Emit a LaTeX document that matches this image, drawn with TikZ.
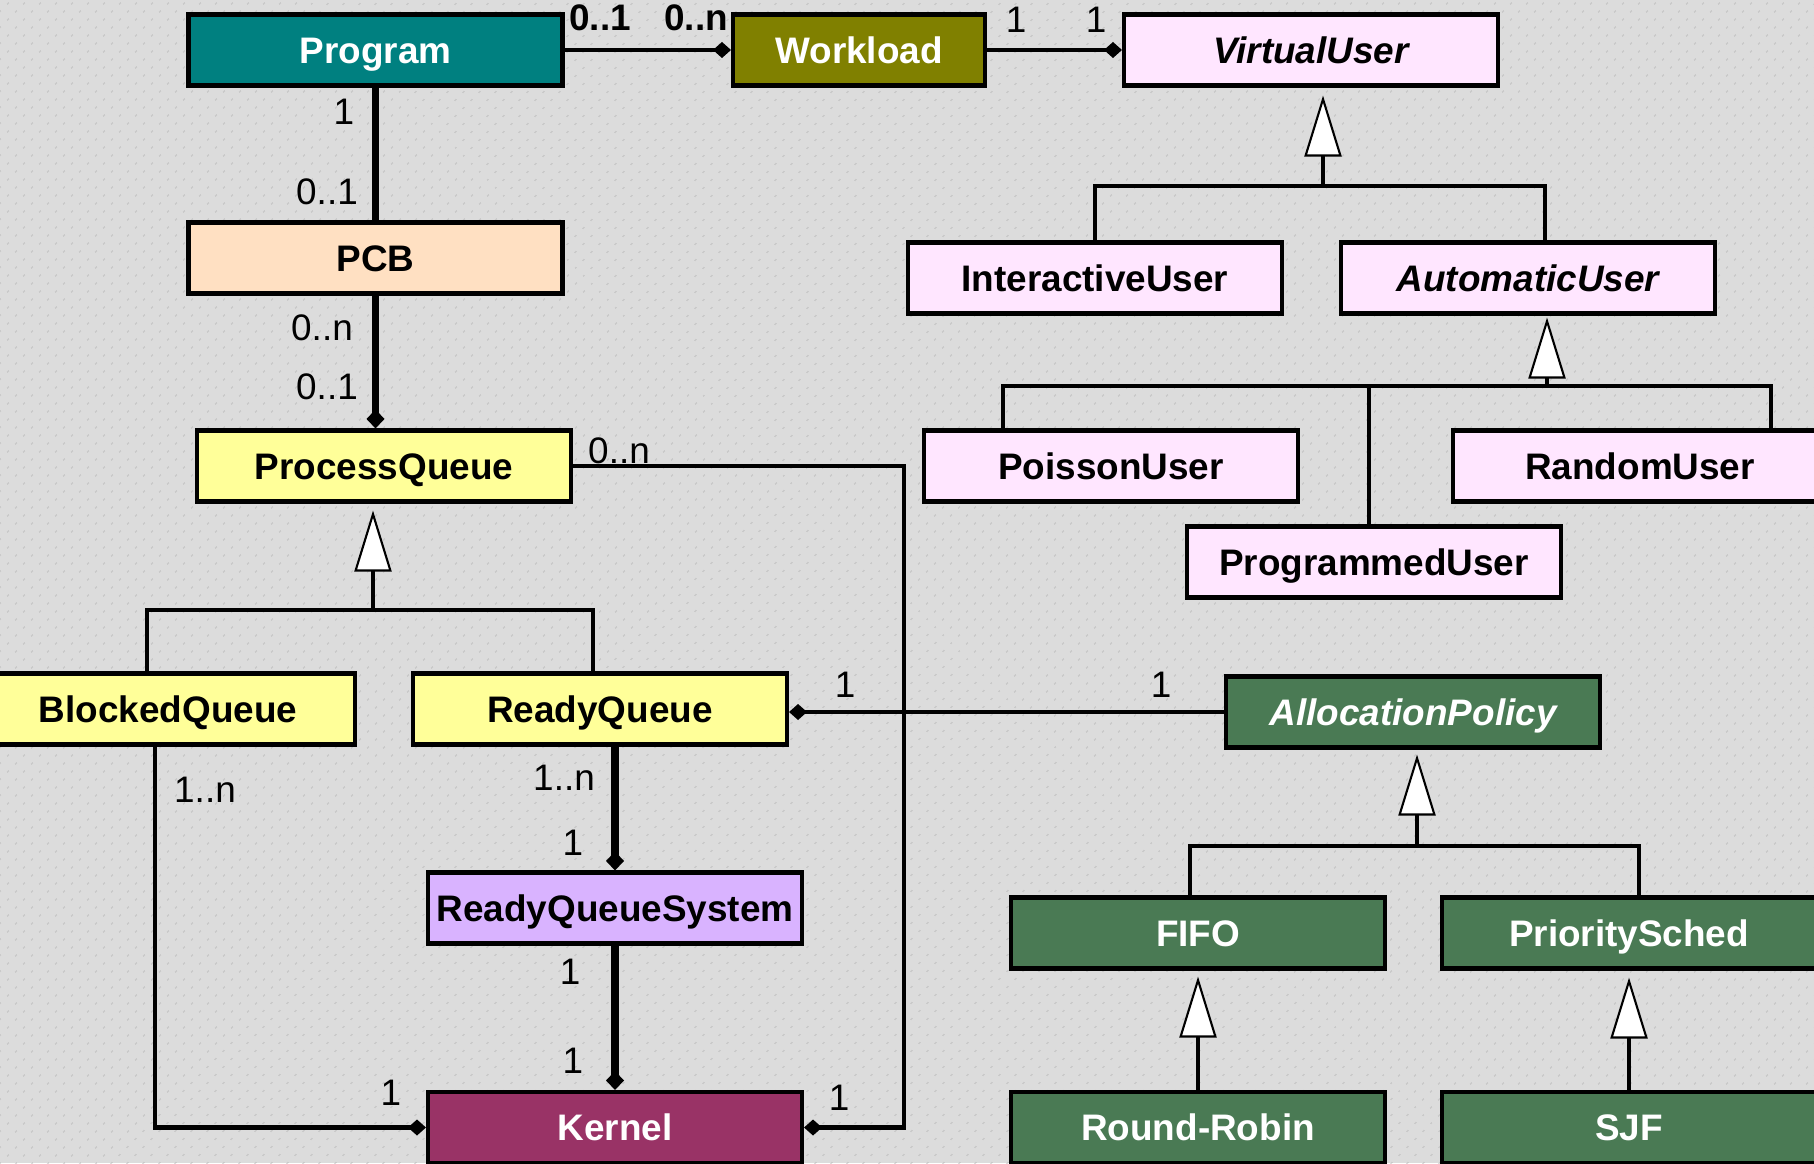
\documentclass[tikz,border=0pt]{standalone}
\usepackage{fontspec}
\setmainfont{Liberation Sans}
\usepackage{tikz}
\usetikzlibrary{arrows.meta,patterns.meta}
\definecolor{canvas}{HTML}{DCDCDC}
\definecolor{dotgray}{HTML}{B8B8B8}
\definecolor{progteal}{HTML}{008080}
\definecolor{workolive}{HTML}{808000}
\definecolor{userpink}{HTML}{FFE6FF}
\definecolor{pcbpeach}{HTML}{FFE0C2}
\definecolor{queueyellow}{HTML}{FFFF99}
\definecolor{syslilac}{HTML}{D9B3FF}
\definecolor{kernelplum}{HTML}{993366}
\definecolor{policygreen}{HTML}{4A7A54}
\tikzset{umlbox/.style={draw=black,line width=1.15pt,minimum width=3.74cm,minimum height=0.71cm,inner sep=0pt,text height=7.5pt,text depth=0pt,font=\fontsize{10.5}{12}\selectfont\bfseries},absbox/.style={umlbox,font=\fontsize{10.5}{12}\selectfont\bfseries\itshape},policy/.style={fill=policygreen,text=white},mult/.style={inner sep=0pt,font=\fontsize{10.5}{12}\selectfont},multb/.style={mult,font=\fontsize{10.5}{12}\selectfont\bfseries},link/.style={line width=1.4pt},strong/.style={line width=2pt},assoc/.style={link,-{Diamond[length=1.8mm,width=1.6mm]}},strongassoc/.style={strong,-{Diamond[length=1.9mm,width=1.8mm]}},gen/.style={link,-{Triangle[length=6.1mm,width=3.7mm,fill=white,line width=0.6pt]}}}
\begin{document}
\begin{tikzpicture}
\fill[canvas] (0,0) rectangle (18.14,11.63);
\fill[pattern={Dots[distance=1.131mm,radius=0.1mm,angle=45]},pattern color=dotgray] (0,0) rectangle (18.14,11.63);
\useasboundingbox (0,0) rectangle (18.14,11.63);
\node[umlbox,fill=progteal,text=white] (prog) at (3.755,11.13) {Program};
\node[umlbox,fill=workolive,text=white,minimum width=2.52cm] (work) at (8.59,11.13) {Workload};
\node[absbox,fill=userpink] (vuser) at (13.11,11.13) {VirtualUser};
\node[umlbox,fill=userpink] (iuser) at (10.95,8.85) {InteractiveUser};
\node[absbox,fill=userpink] (auser) at (15.28,8.85) {AutomaticUser};
\node[umlbox,fill=userpink] (puser) at (11.11,6.97) {PoissonUser};
\node[umlbox,fill=userpink] (ruser) at (16.40,6.97) {RandomUser};
\node[umlbox,fill=userpink] (pguser) at (13.74,6.01) {ProgrammedUser};
\node[umlbox,fill=pcbpeach] (pcb) at (3.755,9.05) {PCB};
\node[umlbox,fill=queueyellow] (pq) at (3.84,6.97) {ProcessQueue};
\node[umlbox,fill=queueyellow] (bq) at (1.68,4.54) {BlockedQueue};
\node[umlbox,fill=queueyellow] (rq) at (6.00,4.54) {ReadyQueue};
\node[umlbox,fill=syslilac] (rqs) at (6.15,2.55) {ReadyQueueSystem};
\node[umlbox,fill=kernelplum,text=white] (kernel) at (6.15,0.355) {Kernel};
\node[absbox,policy] (ap) at (14.13,4.51) {AllocationPolicy};
\node[umlbox,policy] (fifo) at (11.98,2.30) {FIFO};
\node[umlbox,policy] (psched) at (16.29,2.30) {PrioritySched};
\node[umlbox,policy] (rr) at (11.98,0.355) {Round-Robin};
\node[umlbox,policy] (sjf) at (16.29,0.355) {SJF};
\coordinate (pqjoin) at (3.73,5.53);
\coordinate (vujoin) at (13.23,9.77);
\coordinate (aujoin) at (15.47,7.77);
\coordinate (apjoin) at (14.17,3.17);
\coordinate (pqbend) at (9.04,0.355);
\draw[assoc] (prog) -- (work);
\draw[assoc] (work) -- (vuser);
\draw[strong] (prog) -- (pcb);
\draw[strongassoc] (pcb) -- (pcb |- pq.north);
\draw[assoc] (pq.east) -| (pqbend) -- (kernel.east);
\draw[assoc] ([xshift=-1.3mm]bq.south) |- (kernel.west);
\draw[strongassoc] (rq.south -| rqs.north) -- (rqs.north);
\draw[strongassoc] (rqs) -- (kernel);
\draw[assoc] (ap.west) -- (ap.west -| rq.east);
\draw[link] ([xshift=-2.1mm]bq.north) |- (pqjoin) -| ([xshift=-0.7mm]rq.north);
\draw[gen] (pqjoin) -- ([yshift=-0.7mm]pqjoin |- pq.south);
\draw[link] (iuser.north) |- (vujoin) -| ([xshift=1.7mm]auser.north);
\draw[gen] (vujoin) -- ([yshift=-0.8mm]vujoin |- vuser.south);
\draw[link] ([xshift=-10.8mm]puser.north) |- (aujoin) -| ([xshift=13.1mm]ruser.north);
\draw[link] ([xshift=-0.5mm]pguser.north) -- ([xshift=-0.5mm]pguser.north |- aujoin);
\draw[gen] (aujoin) -- ([yshift=-0.2mm]aujoin |- auser.south);
\draw[link] ([xshift=-0.8mm]fifo.north) |- (apjoin) -| ([xshift=1mm]psched.north);
\draw[gen] (apjoin) -- ([yshift=-0.5mm]apjoin |- ap.south);
\draw[gen] (rr) -- ([yshift=-0.6mm]fifo.south);
\draw[gen] (sjf) -- ([yshift=-0.7mm]psched.south);
\node[multb] (m1) at (6.00,11.45) {0..1};
\node[multb] (m2) at (6.96,11.45) {0..n};
\node[mult] (m3) at (10.16,11.43) {1};
\node[mult] (m4) at (10.96,11.43) {1};
\node[mult] (m5) at (3.44,10.51) {1};
\node[mult] (m6) at (3.27,9.71) {0..1};
\node[mult] (m7) at (3.22,8.35) {0..n};
\node[mult] (m8) at (3.27,7.76) {0..1};
\node[mult] (m9) at (6.19,7.12) {0..n};
\node[mult] (m10) at (8.39,0.65) {1};
\node[mult] (m11) at (2.05,3.73) {1..n};
\node[mult] (m12) at (3.91,0.70) {1};
\node[mult] (m13) at (5.64,3.85) {1..n};
\node[mult] (m14) at (5.73,3.20) {1};
\node[mult] (m15) at (5.70,1.91) {1};
\node[mult] (m16) at (5.73,1.02) {1};
\node[mult] (m17) at (8.45,4.78) {1};
\node[mult] (m18) at (11.61,4.78) {1};
\end{tikzpicture}
\end{document}
